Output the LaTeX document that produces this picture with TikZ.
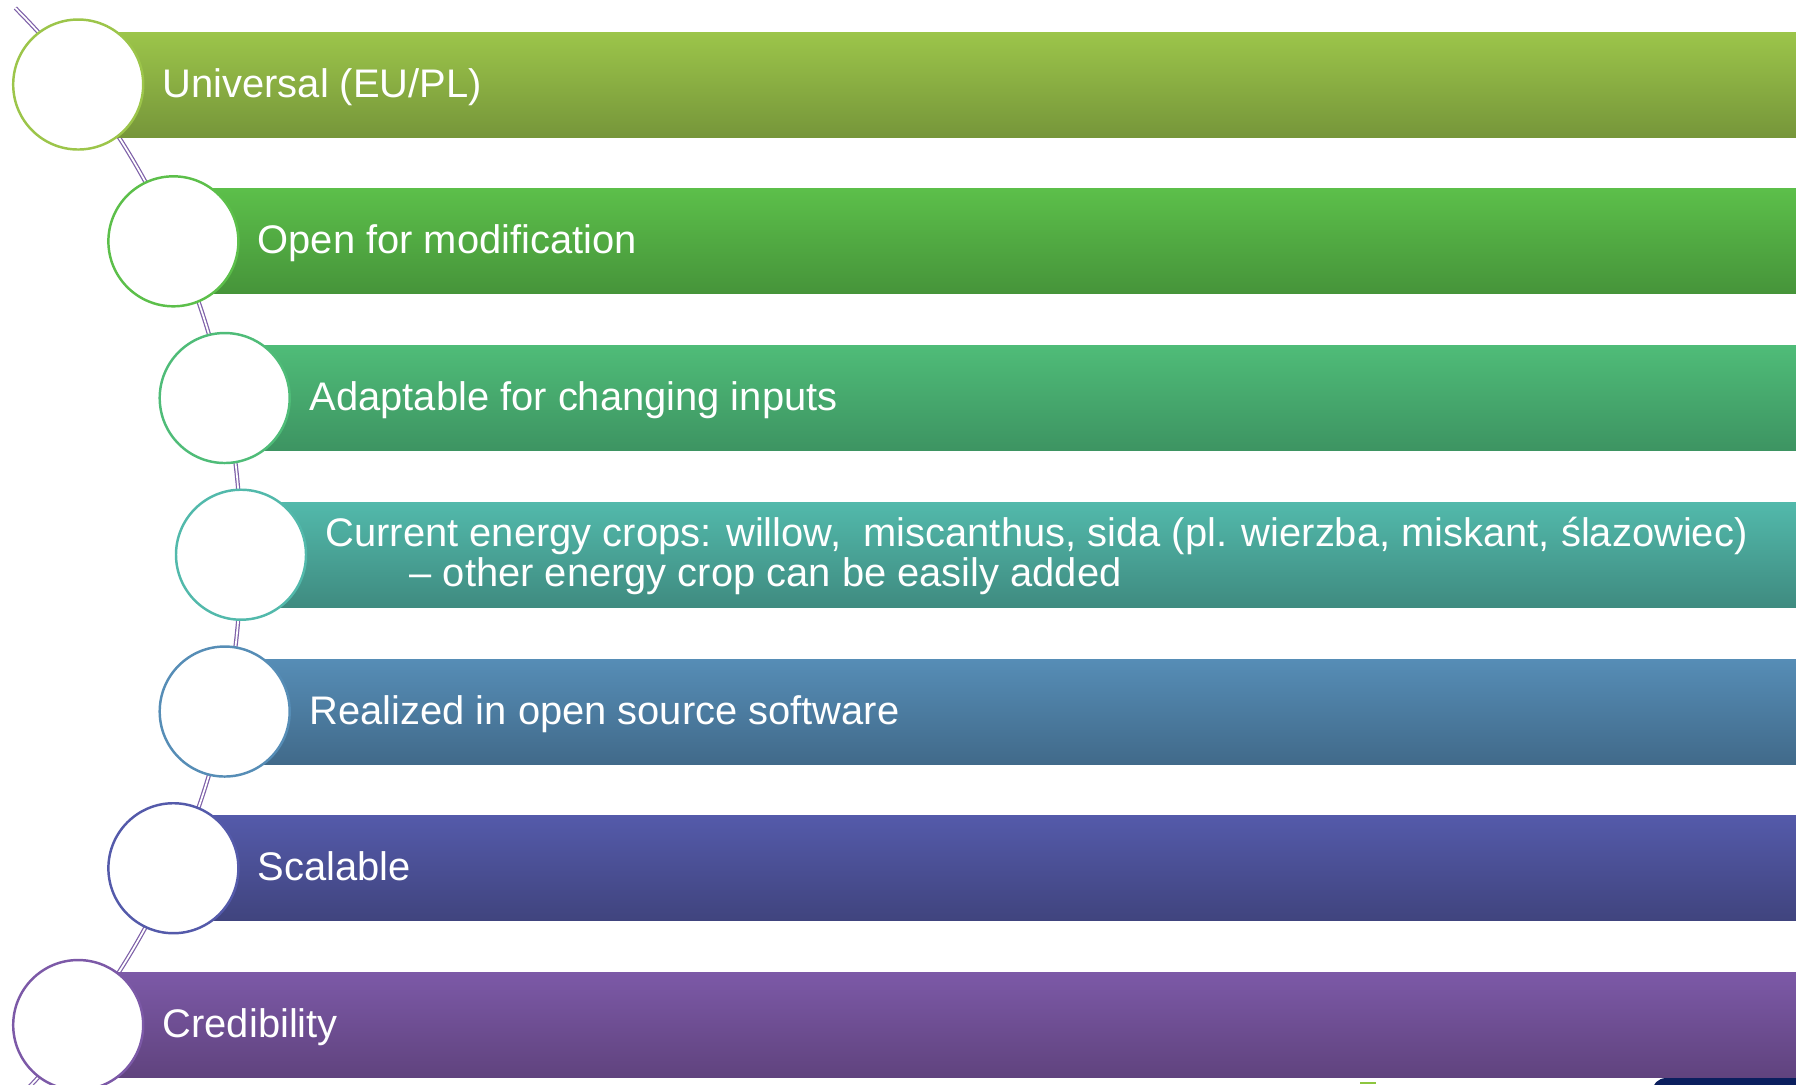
\documentclass[tikz,border=0pt]{standalone}
\usepackage{fontspec}
\setmainfont{Liberation Sans}
\usetikzlibrary{positioning}

% bar gradients (top / bottom) and ring outlines
\definecolor{barAtop}{HTML}{9CC54A}\definecolor{barAbot}{HTML}{76963A}
\definecolor{barBtop}{HTML}{5CBF4A}\definecolor{barBbot}{HTML}{46943A}
\definecolor{barCtop}{HTML}{4FBC78}\definecolor{barCbot}{HTML}{3D9462}
\definecolor{barDtop}{HTML}{52B9AB}\definecolor{barDbot}{HTML}{3F8B80}
\definecolor{barEtop}{HTML}{568DB6}\definecolor{barEbot}{HTML}{416A8A}
\definecolor{barFtop}{HTML}{545AAA}\definecolor{barFbot}{HTML}{40447E}
\definecolor{barGtop}{HTML}{7C59A7}\definecolor{barGbot}{HTML}{60437E}
\definecolor{spineC}{HTML}{7E60A8}
\definecolor{opkblue}{HTML}{0B1F5E}
\definecolor{opkgreen}{HTML}{8DC63F}

\begin{document}
\begin{tikzpicture}[
    bar/.style={rectangle, anchor=west, minimum height=1.05cm, inner sep=0pt},
    ring/.style={circle, fill=white, minimum size=1.3cm, inner sep=0pt, line width=0.7pt},
    lbl/.style={anchor=base west, text=white, inner sep=0pt, font=\fontsize{11.35}{11.4}\selectfont},
    spine/.style={draw=spineC, double=white, line width=0.35pt, double distance=0.5pt},
]
\useasboundingbox (0,0) rectangle (17.96,-10.84);

% curved spine behind the rings
\coordinate (spinetop) at (0.153,-0.08);
\draw[spine] (spinetop) arc[start angle=44.86, end angle=-46, radius=7.75];

% BARS
\node[bar, top color=barAtop, bottom color=barAbot, minimum width=17.18cm] (b1) at (0.782,-0.845) {};
\node[bar, top color=barBtop, bottom color=barBbot, minimum width=16.23cm] (b2) at (1.734,-2.413) {};
\node[bar, top color=barCtop, bottom color=barCbot, minimum width=15.72cm] (b3) at (2.247,-3.980) {};
\node[bar, top color=barDtop, bottom color=barDbot, minimum width=15.55cm] (b4) at (2.410,-5.547) {};
\node[bar, top color=barEtop, bottom color=barEbot, minimum width=15.72cm] (b5) at (2.247,-7.115) {};
\node[bar, top color=barFtop, bottom color=barFbot, minimum width=16.23cm] (b6) at (1.734,-8.682) {};
\node[bar, top color=barGtop, bottom color=barGbot, minimum width=17.18cm] (b7) at (0.782,-10.250) {};

% RINGS
\node[ring, draw=barAtop] (c1) at (0.782,-0.845) {};
\node[ring, draw=barBtop] (c2) at (1.734,-2.413) {};
\node[ring, draw=barCtop] (c3) at (2.247,-3.980) {};
\node[ring, draw=barDtop] (c4) at (2.410,-5.547) {};
\node[ring, draw=barEtop] (c5) at (2.247,-7.115) {};
\node[ring, draw=barFtop] (c6) at (1.734,-8.682) {};
\node[ring, draw=barGtop] (c7) at (0.782,-10.250) {};

% LABELS (baselines sit a little below the bar middle)
\node[lbl] (t1) at (1.62,-0.970) {Universal (EU/PL)};
\node[lbl] (t2) at (2.57,-2.538) {Open for modification};
\node[lbl] (t3) at (3.09,-4.105) {Adaptable for changing inputs};
\node[lbl, align=left] (t4) at (3.25,-5.865)
    {Current energy crops: willow,~ miscanthus, sida (pl. wierzba, miskant, ślazowiec)\\
     \hspace*{0.84cm}– other energy crop can be easily added};
\node[lbl] (t5) at (3.09,-7.240) {Realized in open source software};
\node[lbl] (t6) at (2.57,-8.807) {Scalable};
\node[lbl] (t7) at (1.62,-10.370) {Credibility};

% logo edges at the page foot
\fill[opkgreen] (13.60,-10.84) rectangle (13.76,-10.815);
\fill[opkblue, rounded corners=4pt] (16.52,-11.0) rectangle (18.2,-10.78);

\end{tikzpicture}
\end{document}
